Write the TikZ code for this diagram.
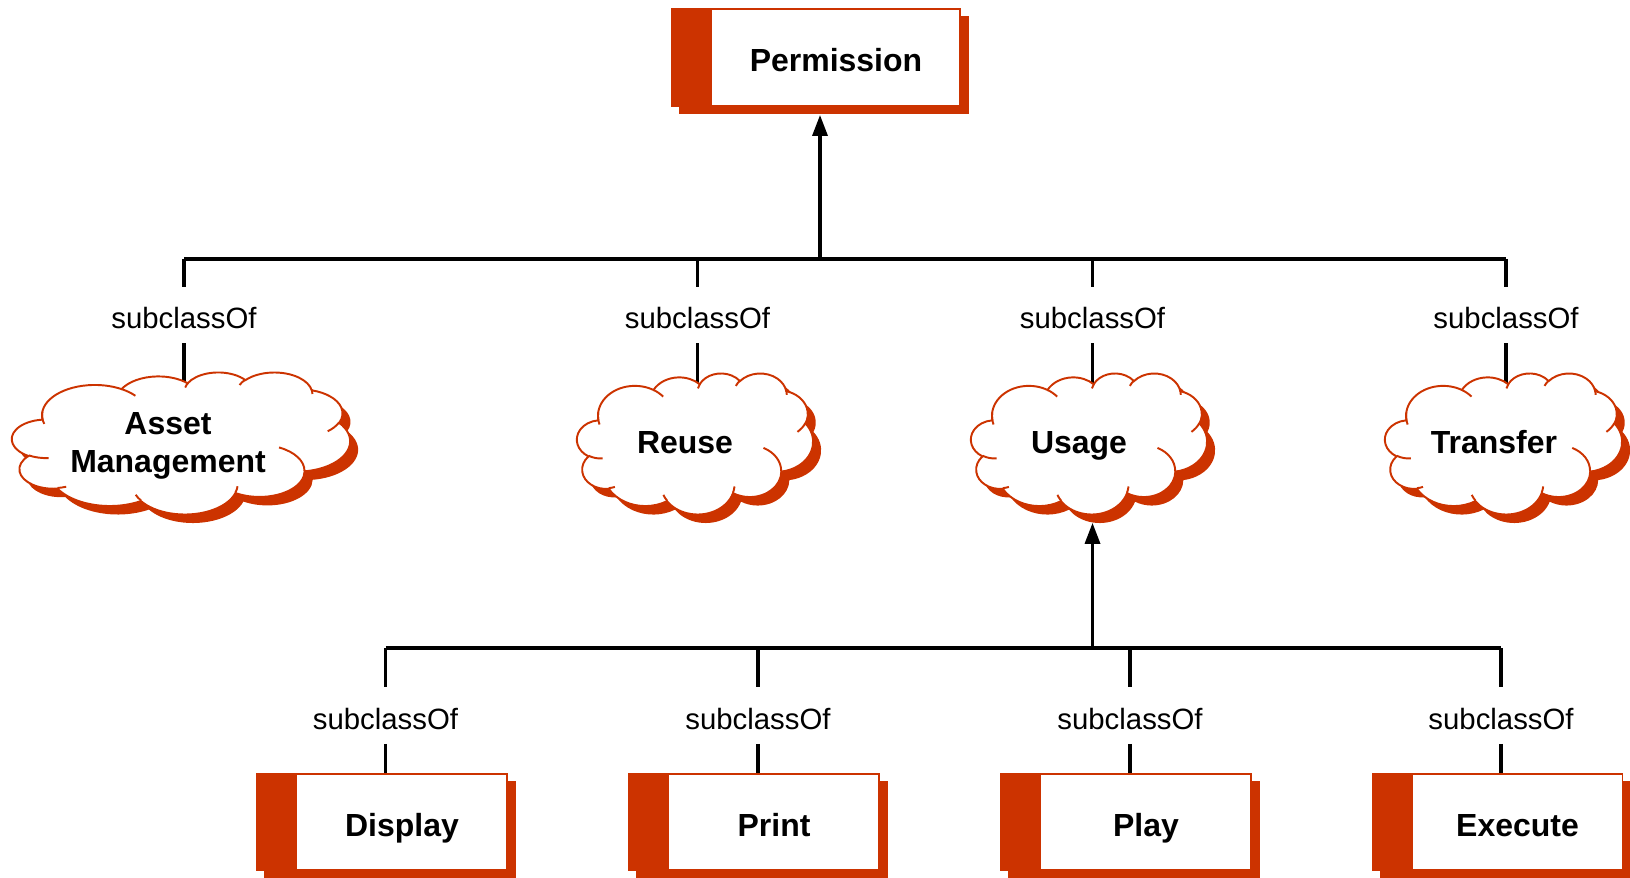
\documentclass[tikz,border=0pt]{standalone}
\usepackage{fontspec}
\setmainfont{Liberation Sans}
\usetikzlibrary{positioning,shadows,arrows.meta,calc,backgrounds}

\definecolor{pptred}{RGB}{204,51,0}

% one arc of the cloud outline: x radius, y radius, start and sweep angle (degrees)
\newcommand{\cloudarc}[4]{arc[x radius=#1, y radius=#2,
  start angle={atan2(#1*sin(#3),#2*cos(#3))},
  delta angle={atan2(#1*sin(#3+#4),#2*cos(#3+#4))-atan2(#1*sin(#3),#2*cos(#3))
    -360*round((atan2(#1*sin(#3+#4),#2*cos(#3+#4))-atan2(#1*sin(#3),#2*cos(#3))-#4)/360)}]}

\newcommand{\cloudpath}{(39.00,143.70)
  \cloudarc{67.53}{91.90}{-190.4875}{123.7805}
  \cloudarc{53.33}{72.67}{-144.1024}{89.9452}
  \cloudarc{43.65}{59.45}{-145.8079}{99.7230}
  \cloudarc{48.57}{65.95}{-130.9861}{117.2417}
  \cloudarc{53.33}{72.73}{-78.7089}{109.0269}
  \cloudarc{67.75}{92.20}{-46.2673}{130.2690}
  \cloudarc{57.85}{78.67}{0.6250}{114.0333}
  \cloudarc{67.52}{92.15}{22.4516}{115.1726}
  \cloudarc{77.20}{105.43}{66.2426}{75.7110}
  \cloudarc{43.60}{59.18}{-274.9421}{146.7356}
  \cloudarc{43.45}{59.45}{-246.8285}{152.5189} -- cycle}

\newcommand{\cloudhints}{(46.93,261.77) \cloudarc{43.45}{59.45}{86.7420}{26.4295}
  (69.28,348.99) \cloudarc{43.60}{59.18}{73.6105}{11.4475}
  (164.78,390.90) \cloudarc{67.52}{92.15}{137.6242}{14.0811}
  (288.27,347.51) \cloudarc{67.52}{92.15}{6.4533}{15.9984}
  (341.29,229.54) \cloudarc{57.85}{78.67}{-70.2924}{70.9174}
  (417.98,153.54) \cloudarc{53.33}{72.73}{30.3180}{27.7515}
  (383.24,54.26) \cloudarc{48.57}{65.95}{-13.7443}{14.8589}
  (290.78,39.52) \cloudarc{48.57}{65.95}{-149.1815}{18.1954}
  (221.41,47.20) \cloudarc{43.65}{59.45}{-163.4943}{17.6864}
  (140.00,51.92) \cloudarc{67.53}{91.90}{-66.7070}{18.0710}
  (41.27,157.89) \cloudarc{67.53}{91.90}{157.6544}{31.2068}}

% cloud with its shadow: centre, width (cm), height (cm)
\newcommand{\pptcloud}[3]{%
  \begin{scope}[shift={#1}, x={(#2cm/432,0)}, y={(0,-#3cm/432)}, shift={(-216,-216)}]
    \fill[pptred, xshift=0.16cm, yshift=-0.17cm] \cloudpath;
    \filldraw[fill=white, draw=pptred, line width=1.1pt] \cloudpath;
    \draw[pptred, line width=1.1pt] \cloudhints;
  \end{scope}}

\tikzset{
  classbox/.style={draw=pptred, fill=white, line width=1.1pt, inner sep=0pt,
    minimum width=5cm, minimum height=1.92cm,
    font=\fontsize{18.2}{22}\selectfont\bfseries,
    text height=0.68cm, text depth=0.1cm,
    execute at begin node={\hspace*{0.8cm}},
    path picture={\fill[pptred] (path picture bounding box.south west)
      rectangle ([xshift=0.8cm]path picture bounding box.north west);},
    copy shadow={shadow xshift=0.16cm, shadow yshift=-0.15cm, fill=pptred, draw=pptred}},
  cloudtext/.style={inner sep=0pt, align=center, minimum width=4.72cm, minimum height=2.82cm,
    font=\fontsize{18.2}{22}\selectfont\bfseries},
  oneline/.style={text height=0.48cm, text depth=0.1cm},
  sublabel/.style={inner sep=0pt, minimum height=1.12cm, text height=0.55cm, text depth=0pt,
    font=\fontsize{16.7}{20}\selectfont},
  conn/.style={line width=1.9pt},
}

\begin{document}
\begin{tikzpicture}
    \useasboundingbox (0,0) rectangle (32.6,17.54);

    % top class
    \node (1) [classbox, minimum width=5.76cm, minimum height=1.94cm] at (16.32,16.39) {Permission};

    % second level
    \coordinate (j1) at (16.4,12.36);
    \node (l2a) [sublabel] at (3.68,11.24) {subclassOf};
    \node (l2b) [sublabel] at (13.95,11.24) {subclassOf};
    \node (l2c) [sublabel] at (21.85,11.24) {subclassOf};
    \node (l2d) [sublabel] at (30.12,11.24) {subclassOf};
    \pptcloud{(3.62,8.68)}{6.76}{2.84}
    \pptcloud{(13.9,8.67)}{4.72}{2.82}
    \pptcloud{(21.78,8.67)}{4.72}{2.82}
    \pptcloud{(30.07,8.67)}{4.74}{2.82}
    \node (2a) [cloudtext, minimum width=6.76cm] at (3.36,8.62) {Asset\\Management};
    \node (2b) [cloudtext, oneline] at (13.7,8.67) {Reuse};
    \node (2c) [cloudtext, oneline] at (21.58,8.67) {Usage};
    \node (2d) [cloudtext, oneline] at (29.88,8.67) {Transfer};

    % third level
    \coordinate (j2) at (21.85,4.58);
    \node (l3a) [sublabel] at (7.71,3.23) {subclassOf};
    \node (l3b) [sublabel] at (15.16,3.23) {subclassOf};
    \node (l3c) [sublabel] at (22.6,3.23) {subclassOf};
    \node (l3d) [sublabel] at (30.02,3.23) {subclassOf};
    \node (3a) [classbox] at (7.64,1.10) {Display};
    \node (3b) [classbox] at (15.08,1.10) {Print};
    \node (3c) [classbox] at (22.52,1.10) {Play};
    \node (3d) [classbox] at (29.95,1.10) {Execute};

    \begin{scope}[on background layer]
    \draw[conn] (l2a.north |- j1) -- (l2d.north |- j1);
    \draw[conn] (l2a.north |- j1) -- (l2a.north);
    \draw[conn] (l2b.north |- j1) -- (l2b.north);
    \draw[conn] (l2c.north |- j1) -- (l2c.north);
    \draw[conn] (l2d.north |- j1) -- (l2d.north);
    \draw[conn] (l2a.south) -- (l2a.south |- 2a.center);
    \draw[conn] (l2b.south) -- (l2b.south |- 2b.center);
    \draw[conn] (l2c.south) -- (l2c.south |- 2c.center);
    \draw[conn] (l2d.south) -- (l2d.south |- 2d.center);
    \draw[conn,-{Triangle[length=0.42cm,width=0.3cm]}] (j1) -- ($(j1 |- 1.south)+(0,-0.16)$);

    \draw[conn] (l3a.north |- j2) -- (l3d.north |- j2);
    \draw[conn] (l3a.north |- j2) -- (l3a.north);
    \draw[conn] (l3b.north |- j2) -- (l3b.north);
    \draw[conn] (l3c.north |- j2) -- (l3c.north);
    \draw[conn] (l3d.north |- j2) -- (l3d.north);
    \draw[conn] (l3a.south) -- (l3a.south |- 3a.north);
    \draw[conn] (l3b.south) -- (l3b.south |- 3b.north);
    \draw[conn] (l3c.south) -- (l3c.south |- 3c.north);
    \draw[conn] (l3d.south) -- (l3d.south |- 3d.north);
    \draw[conn,-{Triangle[length=0.42cm,width=0.3cm]}] (j2) -- ($(j2 |- 2c.south)+(0,-0.17)$);
    \end{scope}
\end{tikzpicture}
\end{document}
